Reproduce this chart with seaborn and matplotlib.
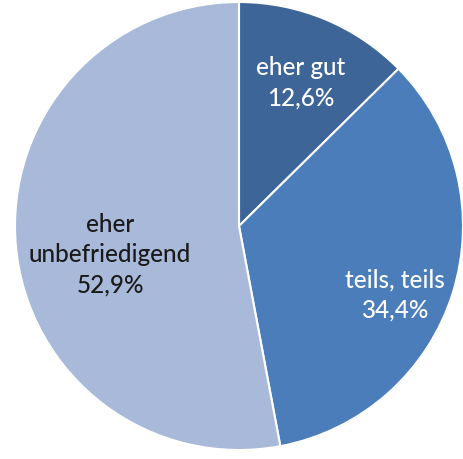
import matplotlib
matplotlib.use("Agg")
import matplotlib.pyplot as plt
import seaborn as sns

categories = ["eher gut", "teils, teils", "eher\nunbefriedigend"]
values = [12.6, 34.4, 52.9]
value_labels = ["12,6%", "34,4%", "52,9%"]

sns.set_style("white")
plt.rcParams['font.family'] = ['Lato', 'DejaVu Sans']
colors = sns.color_palette(["#3d6598", "#4a7dba", "#a9b9da"])
text_colors = ["white", "white", "#1a1a1a"]
label_pos = [(0.277, 0.638), (0.696, -0.308), (-0.576, -0.129)]

fig = plt.figure(figsize=(4.64, 4.59), dpi=100)
ax = fig.add_axes([(239 - 224) / 464, (459 - 226 - 224) / 459, 448 / 464, 448 / 459])
wedges, _ = ax.pie(values, colors=colors, startangle=90, counterclock=False,
                   radius=1.0, wedgeprops=dict(edgecolor="white", linewidth=1.5))
for cat, vl, pos, tc in zip(categories, value_labels, label_pos, text_colors):
    ax.text(pos[0], pos[1], f"{cat}\n{vl}", ha="center", va="center",
            color=tc, fontsize=17.5, linespacing=1.4, fontweight="medium")
ax.set_xlim(-1, 1)
ax.set_ylim(-1, 1)
ax.set_aspect("auto")
ax.axis("off")
fig.savefig("out.png", dpi=100)
